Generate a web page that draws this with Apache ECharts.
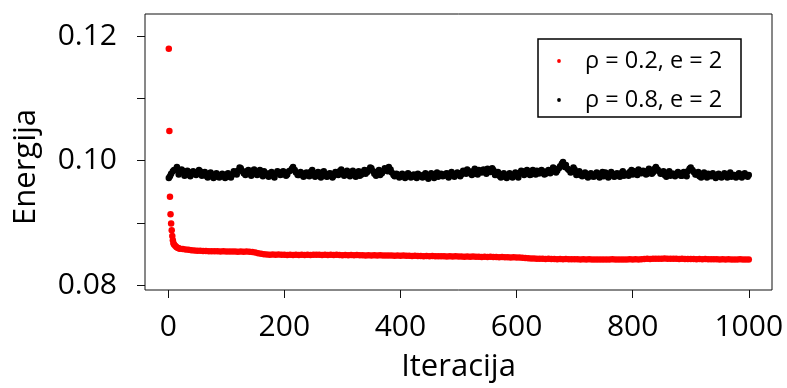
<!DOCTYPE html>
<html>
<head>
<meta charset="utf-8">
<script src="https://cdn.jsdelivr.net/npm/echarts@6/dist/echarts.min.js"></script>
<style>
  html, body { margin: 0; padding: 0; background: #fff; }
  #chart { width: 787px; height: 388px; }
</style>
</head>
<body>
<div id="chart"></div>
<script>
// Iteration numbers at which the energy was sampled
const iterHeadRed = [1, 2, 3, 4, 5, 6, 7, 8, 9, 10, 12, 14, 16, 18, 20];
const iterHeadBlack = [1, 5, 10, 15, 20];
const iterTail = [
  25, 30, 35, 40, 45, 50, 55, 60, 65, 70, 75, 80, 85, 90, 95, 100, 105, 110, 115, 120,
  125, 130, 135, 140, 145, 150, 155, 160, 165, 170, 175, 180, 185, 190, 195, 200, 205, 210, 215, 220,
  225, 230, 235, 240, 245, 250, 255, 260, 265, 270, 275, 280, 285, 290, 295, 300, 305, 310, 315, 320,
  325, 330, 335, 340, 345, 350, 355, 360, 365, 370, 375, 380, 385, 390, 395, 400, 405, 410, 415, 420,
  425, 430, 435, 440, 445, 450, 455, 460, 465, 470, 475, 480, 485, 490, 495, 500, 505, 510, 515, 520,
  525, 530, 535, 540, 545, 550, 555, 560, 565, 570, 575, 580, 585, 590, 595, 600, 605, 610, 615, 620,
  625, 630, 635, 640, 645, 650, 655, 660, 665, 670, 675, 680, 685, 690, 695, 700, 705, 710, 715, 720,
  725, 730, 735, 740, 745, 750, 755, 760, 765, 770, 775, 780, 785, 790, 795, 800, 805, 810, 815, 820,
  825, 830, 835, 840, 845, 850, 855, 860, 865, 870, 875, 880, 885, 890, 895, 900, 905, 910, 915, 920,
  925, 930, 935, 940, 945, 950, 955, 960, 965, 970, 975, 980, 985, 990, 995, 1000
];
// Intermediate iterations sampled for the rho = 0.8 run
const iterMidBlack = [
  3, 8, 13, 18, 23, 28, 33, 38, 43, 48, 53, 58, 63, 68, 73, 78, 83, 88, 93, 98,
  103, 108, 113, 118, 123, 128, 133, 138, 143, 148, 153, 158, 163, 168, 173, 178, 183, 188, 193, 198,
  203, 208, 213, 218, 223, 228, 233, 238, 243, 248, 253, 258, 263, 268, 273, 278, 283, 288, 293, 298,
  303, 308, 313, 318, 323, 328, 333, 338, 343, 348, 353, 358, 363, 368, 373, 378, 383, 388, 393, 398,
  403, 408, 413, 418, 423, 428, 433, 438, 443, 448, 453, 458, 463, 468, 473, 478, 483, 488, 493, 498,
  503, 508, 513, 518, 523, 528, 533, 538, 543, 548, 553, 558, 563, 568, 573, 578, 583, 588, 593, 598,
  603, 608, 613, 618, 623, 628, 633, 638, 643, 648, 653, 658, 663, 668, 673, 678, 683, 688, 693, 698,
  703, 708, 713, 718, 723, 728, 733, 738, 743, 748, 753, 758, 763, 768, 773, 778, 783, 788, 793, 798,
  803, 808, 813, 818, 823, 828, 833, 838, 843, 848, 853, 858, 863, 868, 873, 878, 883, 888, 893, 898,
  903, 908, 913, 918, 923, 928, 933, 938, 943, 948, 953, 958, 963, 968, 973, 978, 983, 988, 993, 998
];

// Energy, rho = 0.2, e = 2
const energyRed = [
  0.1180, 0.1048, 0.0942, 0.0914, 0.0899, 0.0888, 0.0879, 0.0872, 0.0867, 0.0865,
  0.0863, 0.0861, 0.0860, 0.0859, 0.08585,
  0.08580, 0.08571, 0.08566, 0.08560, 0.08556, 0.08552, 0.08550, 0.08547, 0.08548, 0.08544,
  0.08545, 0.08542, 0.08544, 0.08540, 0.08542, 0.08539, 0.08541, 0.08538, 0.08540, 0.08537,
  0.08539, 0.08536, 0.08538, 0.08535, 0.08530, 0.08522, 0.08512, 0.08503, 0.08496, 0.08491,
  0.08488, 0.08490, 0.08486, 0.08489, 0.08485, 0.08488, 0.08484, 0.08487, 0.08483, 0.08486,
  0.08484, 0.08487, 0.08483, 0.08486, 0.08484, 0.08487, 0.08485, 0.08488, 0.08484, 0.08486,
  0.08483, 0.08486, 0.08482, 0.08485, 0.08483, 0.08480, 0.08483, 0.08479, 0.08482, 0.08478,
  0.08481, 0.08477, 0.08480, 0.08476, 0.08479, 0.08476, 0.08478, 0.08475, 0.08477, 0.08474,
  0.08476, 0.08473, 0.08475, 0.08472, 0.08474, 0.08470, 0.08473, 0.08469, 0.08471, 0.08468,
  0.08470, 0.08466, 0.08468, 0.08464, 0.08467, 0.08463, 0.08465, 0.08462, 0.08464, 0.08461,
  0.08463, 0.08460, 0.08462, 0.08459, 0.08461, 0.08457, 0.08460, 0.08456, 0.08458, 0.08455,
  0.08457, 0.08454, 0.08456, 0.08452, 0.08455, 0.08451, 0.08453, 0.08450, 0.08452, 0.08448,
  0.08450, 0.08446, 0.08448, 0.08444, 0.08446, 0.08441, 0.08443, 0.08437, 0.08434, 0.08430,
  0.08428, 0.08425, 0.08423, 0.08421, 0.08423, 0.08419, 0.08421, 0.08418, 0.08420, 0.08416,
  0.08418, 0.08415, 0.08417, 0.08414, 0.08416, 0.08413, 0.08415, 0.08412, 0.08414, 0.08411,
  0.08413, 0.08410, 0.08412, 0.08409, 0.08411, 0.08409, 0.08412, 0.08410, 0.08413, 0.08410,
  0.08412, 0.08409, 0.08411, 0.08410, 0.08413, 0.08411, 0.08414, 0.08412, 0.08416, 0.08418,
  0.08421, 0.08419, 0.08423, 0.08421, 0.08424, 0.08422, 0.08425, 0.08422, 0.08424, 0.08421,
  0.08423, 0.08420, 0.08422, 0.08418, 0.08420, 0.08417, 0.08419, 0.08416, 0.08418, 0.08415,
  0.08417, 0.08414, 0.08416, 0.08413, 0.08415, 0.08412, 0.08414, 0.08411, 0.08413, 0.08410,
  0.08412, 0.08410, 0.08413, 0.08411, 0.08412, 0.08410
];

// Energy, rho = 0.8, e = 2 (at iterHeadBlack + iterTail)
const energyBlack = [
  0.0972, 0.0979, 0.0985, 0.0990, 0.0981, 0.0984, 0.0977, 0.0982, 0.0978, 0.0981,
  0.0979, 0.0983, 0.0980, 0.0976, 0.0979, 0.0975, 0.0978, 0.0974, 0.0977, 0.0975,
  0.0978, 0.0974, 0.0977, 0.0981, 0.0984, 0.0988, 0.0980, 0.0983, 0.0979, 0.0984,
  0.0980, 0.0982, 0.0978, 0.0983, 0.0977, 0.0980, 0.0976, 0.0979, 0.0982, 0.0978,
  0.0981, 0.0978, 0.0984, 0.0990, 0.0981, 0.0977, 0.0980, 0.0976, 0.0979, 0.0982,
  0.0977, 0.0980, 0.0976, 0.0981, 0.0978, 0.0975, 0.0979, 0.0976, 0.0980, 0.0983,
  0.0979, 0.0982, 0.0978, 0.0981, 0.0977, 0.0980, 0.0976, 0.0982, 0.0979, 0.0985,
  0.0988, 0.0979, 0.0982, 0.0977, 0.0983, 0.0986, 0.0990, 0.0981, 0.0975, 0.0978,
  0.0974, 0.0977, 0.0975, 0.0978, 0.0974, 0.0976, 0.0979, 0.0975, 0.0977, 0.0974,
  0.0977, 0.0975, 0.0978, 0.0974, 0.0979, 0.0976, 0.0980, 0.0976, 0.0979, 0.0977,
  0.0980, 0.0978, 0.0982, 0.0986, 0.0980, 0.0983, 0.0979, 0.0985, 0.0981, 0.0984,
  0.0987, 0.0982, 0.0985, 0.0979, 0.0976, 0.0978, 0.0974, 0.0977, 0.0975, 0.0978,
  0.0976, 0.0980, 0.0983, 0.0979, 0.0982, 0.0978, 0.0981, 0.0984, 0.0980, 0.0983,
  0.0979, 0.0985, 0.0982, 0.0987, 0.0984, 0.0991, 0.0998, 0.0993, 0.0985, 0.0982,
  0.0986, 0.0980, 0.0977, 0.0979, 0.0976, 0.0978, 0.0975, 0.0978, 0.0976, 0.0979,
  0.0975, 0.0978, 0.0976, 0.0979, 0.0975, 0.0977, 0.0980, 0.0976, 0.0979, 0.0982,
  0.0978, 0.0981, 0.0986, 0.0980, 0.0983, 0.0979, 0.0984, 0.0981, 0.0990, 0.0983,
  0.0980, 0.0977, 0.0980, 0.0976, 0.0979, 0.0977, 0.0980, 0.0976, 0.0979, 0.0983,
  0.0989, 0.0982, 0.0978, 0.0975, 0.0978, 0.0976, 0.0979, 0.0975, 0.0977, 0.0974,
  0.0977, 0.0975, 0.0978, 0.0976, 0.0974, 0.0977, 0.0975, 0.0978, 0.0976, 0.0977,
  0.0977
];

// Energy, rho = 0.8, e = 2 (at iterMidBlack)
const energyBlackMid = [
  0.0975, 0.0983, 0.0986, 0.0978, 0.0986, 0.0976, 0.0984, 0.0975, 0.0983, 0.0977,
  0.0985, 0.0976, 0.0982, 0.0973, 0.0981, 0.0972, 0.0980, 0.0973, 0.0979, 0.0972,
  0.0980, 0.0973, 0.0983, 0.0978, 0.0989, 0.0983, 0.0977, 0.0985, 0.0976, 0.0986,
  0.0977, 0.0985, 0.0975, 0.0980, 0.0974, 0.0982, 0.0973, 0.0983, 0.0977, 0.0983,
  0.0976, 0.0983, 0.0987, 0.0985, 0.0977, 0.0982, 0.0974, 0.0981, 0.0975, 0.0985,
  0.0974, 0.0982, 0.0973, 0.0983, 0.0974, 0.0980, 0.0973, 0.0982, 0.0977, 0.0986,
  0.0976, 0.0984, 0.0975, 0.0984, 0.0974, 0.0983, 0.0978, 0.0985, 0.0982, 0.0989,
  0.0983, 0.0976, 0.0985, 0.0980, 0.0988, 0.0983, 0.0986, 0.0977, 0.0979, 0.0973,
  0.0979, 0.0972, 0.0980, 0.0973, 0.0978, 0.0972, 0.0977, 0.0973, 0.0980, 0.0971,
  0.0980, 0.0972, 0.0981, 0.0977, 0.0975, 0.0979, 0.0973, 0.0982, 0.0974, 0.0981,
  0.0975, 0.0984, 0.0979, 0.0983, 0.0977, 0.0987, 0.0978, 0.0982, 0.0986, 0.0979,
  0.0984, 0.0988, 0.0977, 0.0982, 0.0973, 0.0980, 0.0972, 0.0980, 0.0973, 0.0981,
  0.0973, 0.0984, 0.0977, 0.0985, 0.0977, 0.0985, 0.0978, 0.0980, 0.0985, 0.0978,
  0.0983, 0.0980, 0.0989, 0.0981, 0.0988, 0.0995, 0.0990, 0.0987, 0.0981, 0.0989,
  0.0977, 0.0983, 0.0975, 0.0981, 0.0973, 0.0980, 0.0974, 0.0981, 0.0973, 0.0982,
  0.0981, 0.0973, 0.0982, 0.0974, 0.0980, 0.0974, 0.0983, 0.0978, 0.0976, 0.0985,
  0.0983, 0.0977, 0.0983, 0.0984, 0.0978, 0.0987, 0.0979, 0.0987, 0.0986, 0.0979,
  0.0983, 0.0974, 0.0983, 0.0979, 0.0975, 0.0982, 0.0976, 0.0982, 0.0975, 0.0987,
  0.0985, 0.0978, 0.0982, 0.0973, 0.0981, 0.0973, 0.0976, 0.0980, 0.0972, 0.0979,
  0.0973, 0.0980, 0.0973, 0.0981, 0.0977, 0.0973, 0.0980, 0.0973, 0.0980, 0.0974
];

const xTicks = [0, 200, 400, 600, 800, 1000];
const yTicks = [0.08, 0.09, 0.10, 0.11, 0.12];
const yTickLabels = [0.08, 0.10, 0.12];
const seriesNames = ['ρ = 0.2, e = 2', 'ρ = 0.8, e = 2'];
const seriesColors = ['#ff0000', '#000000'];

const iterRed = iterHeadRed.concat(iterTail);
const iterBlack = iterHeadBlack.concat(iterTail);
const pairs = (xs, ys) => xs.map((x, i) => [x, ys[i]]);

const FONT = '"Open Sans", "Noto Sans", sans-serif';
const chart = echarts.init(document.getElementById('chart'), null, { renderer: 'canvas' });

// Boxed legend in the upper right corner of the plot
const LEG = { x: 538, y: 39, w: 203, h: 78, dotX: 559, textX: 585, rows: [61, 100] };
const legendGraphics = [{
  type: 'rect',
  shape: { x: LEG.x, y: LEG.y, width: LEG.w, height: LEG.h },
  style: { fill: '#fff', stroke: '#000', lineWidth: 1.5 },
  z: 10
}];
seriesNames.forEach((name, i) => {
  legendGraphics.push({
    type: 'circle',
    shape: { cx: LEG.dotX, cy: LEG.rows[i], r: 1.9 },
    style: { fill: seriesColors[i] },
    z: 11
  });
  legendGraphics.push({
    type: 'text',
    x: LEG.textX, y: LEG.rows[i],
    style: {
      text: name, fontFamily: FONT, fontSize: 23.5, fill: '#000',
      align: 'left', verticalAlign: 'middle'
    },
    z: 11
  });
});

chart.setOption({
  animation: false,
  backgroundColor: '#ffffff',
  grid: {
    left: 145, right: 15, top: 14, bottom: 98,
    show: true, borderColor: '#111', borderWidth: 1, backgroundColor: 'transparent'
  },
  xAxis: {
    type: 'value',
    min: -40, max: 1040,
    axisLine: { show: false, onZero: false },
    splitLine: { show: false },
    axisTick: { show: true, inside: false, length: 8, customValues: xTicks, lineStyle: { color: '#111', width: 1 } },
    axisLabel: {
      customValues: xTicks, margin: 22,
      fontFamily: FONT, fontSize: 30, color: '#000',
      formatter: v => String(v)
    },
    name: 'Iteracija', nameLocation: 'middle', nameGap: 62,
    nameTextStyle: { fontFamily: FONT, fontSize: 31, color: '#000' }
  },
  yAxis: {
    type: 'value',
    position: 'left',
    min: 0.079195, max: 0.12361,
    axisLine: { show: false, onZero: false },
    splitLine: { show: false },
    axisTick: { show: true, inside: false, length: 8, customValues: yTicks, lineStyle: { color: '#111', width: 1 } },
    axisLabel: {
      customValues: yTickLabels, margin: 28,
      fontFamily: FONT, fontSize: 30, color: '#000',
      formatter: v => v.toFixed(2)
    }
  },
  graphic: [{
    type: 'text',
    x: 26, y: 167,
    rotation: Math.PI / 2,
    style: {
      text: 'Energija', fontFamily: FONT, fontSize: 31, fill: '#000',
      align: 'center', verticalAlign: 'middle'
    }
  }].concat(legendGraphics),
  series: [
    {
      name: seriesNames[0], type: 'scatter',
      symbol: 'circle', symbolSize: 6.5,
      itemStyle: { color: seriesColors[0], opacity: 1 },
      data: pairs(iterRed, energyRed)
    },
    {
      name: seriesNames[1], type: 'scatter',
      symbol: 'circle', symbolSize: 6.5,
      itemStyle: { color: seriesColors[1], opacity: 1 },
      data: pairs(iterBlack, energyBlack).concat(pairs(iterMidBlack, energyBlackMid))
    }
  ]
});
</script>
</body>
</html>
